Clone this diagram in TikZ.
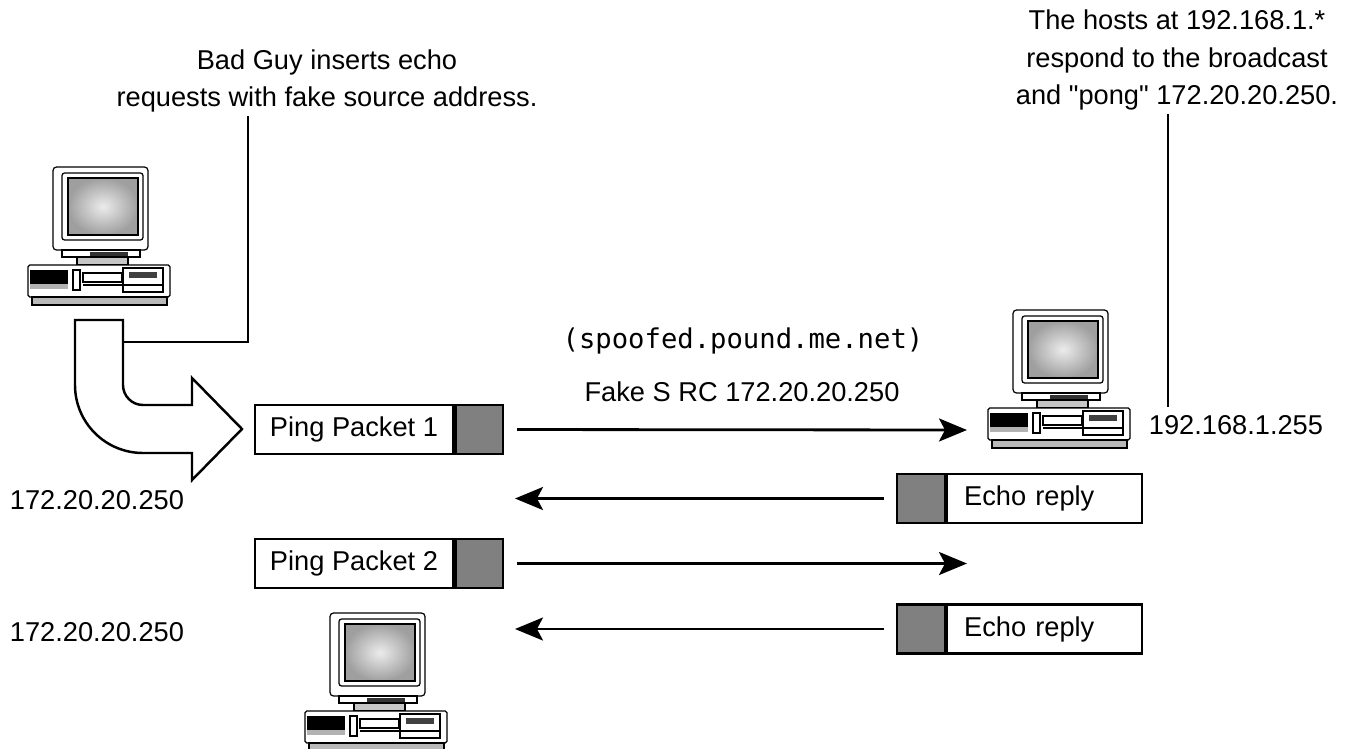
\documentclass[tikz,border=0pt]{standalone}
\usepackage{fontspec}
\setmainfont{Liberation Sans}
\setmonofont{DejaVu Sans Mono}
\newfontfamily\rawfont{Liberation Sans}
\usetikzlibrary{positioning, arrows.meta}

\begin{document}
\begin{tikzpicture}[
    x=0.02cm, y=-0.02cm,
    >={Stealth[length=0.56cm, width=0.46cm, inset=0.12cm]},
    lbl/.style={font=\fontsize{15.5}{21.5}\selectfont, inner sep=2pt},
    pkt/.style={lbl, draw, fill=white, line width=1.4pt, minimum height=0.98cm, inner xsep=0.2cm, inner ysep=0pt},
    cell/.style={draw, fill=gray, line width=1.4pt, minimum width=0.95cm, minimum height=0.98cm, inner sep=0pt},
    flow/.style={->, line width=1.6pt},
    callout/.style={line width=0.9pt},
    bigarrow/.style={draw, fill=white, line width=1.4pt, line join=miter},
    pcline/.style={line width=0.7pt}
]

% Desktop PC Definition (origin = top left corner)
\tikzset{
    computer/.pic={
        % monitor
        \draw[pcline, fill=white, rounded corners=2pt] (25,0) rectangle (120,83);
        \draw[pcline, fill=white, rounded corners=1.5pt] (34,6) rectangle (115,73);
        \shade[inner color=gray!15, outer color=gray!75] (40,11) rectangle (110,68);
        \draw[pcline] (40,11) rectangle (110,68);
        % stand
        \draw[pcline, fill=white] (34,83) rectangle (112,90);
        \fill[black!80] (62,85) rectangle (100,89);
        \draw[pcline, fill=gray!45] (49,90) rectangle (100,98);
        % case
        \draw[pcline, fill=white, rounded corners=1pt] (0,98) rectangle (142,130);
        \draw[pcline, fill=gray!55] (4,130) rectangle (139,138);
        \fill[black] (2,103) rectangle (40,117);
        \fill[gray!60] (2,117) rectangle (40,122);
        \draw[pcline, fill=white] (45,103) rectangle (52,123);
        \draw[pcline, fill=white] (55,106) rectangle (94,115);
        \draw[pcline] (55,118) -- (135,118);
        \draw[pcline] (95,101) rectangle (135,125);
        \fill[black!75] (101,105) rectangle (129,111);
        \coordinate (-port) at (-21,120);
    }
}

\useasboundingbox (0,0) rectangle (1356,748);
\clip (0,0) rectangle (1356,748);

\pic (BadGuyPC) at (28,167) {computer};
\pic (HostsPC) at (988,310) {computer};
\pic (VictimPC) at (305,613) {computer};

% notes
\node[lbl, align=center] (BadNote) at (327,81) {Bad Guy inserts echo\\requests with fake source address.};
\node[lbl, align=center] (HostsNote) at (1177,60) {The hosts at 192.168.1.*\\respond to the broadcast\\and {\rawfont"}pong{\rawfont"} 172.20.20.250.};

\node[lbl, anchor=west] (HostsAddr) at (1145,425) {192.168.1.255};
\node[lbl, anchor=west] (SrcAddrA) at (6,500) {172.20.20.250};
\node[lbl, anchor=west] (SrcAddrB) at (6,632) {172.20.20.250};

\node[lbl, font=\ttfamily\fontsize{15.5}{21.5}\selectfont] (Spoof) at (743,341) {(spoofed.pound.me.net)};
\node[lbl] (FakeSrc) at (742,392) {Fake S RC 172.20.20.250};

% packets
\node[pkt, minimum width=3.96cm] (Ping1) at (354,429.5) {Ping Packet 1};
\node[cell, right=0pt of Ping1] (Ping1c) {};
\node[pkt, minimum width=3.96cm] (Ping2) at (354,563.5) {Ping Packet 2};
\node[cell, right=0pt of Ping2] (Ping2c) {};

\node[cell] (Echo1c) at (921,498.5) {};
\node[pkt, text width=3.22cm, inner xsep=0.34cm, align=left, right=0pt of Echo1c] (Echo1) {Echo reply};
\node[cell] (Echo2c) at (921,629) {};
\node[pkt, text width=3.22cm, inner xsep=0.34cm, align=left, right=0pt of Echo2c] (Echo2) {Echo reply};

\coordinate (SrcA) at (515,498.5);
\coordinate (BcastB) at (967,563.5);
\coordinate (SrcB) at (515,629);

\draw[flow, shorten <=0.26cm] (Ping1c.east) -- (HostsPC-port);
\draw[flow, shorten <=0.24cm] (Echo1c.west) -- (SrcA);
\draw[flow, shorten <=0.26cm] (Ping2c.east) -- (BcastB);
\draw[flow, shorten <=0.24cm] (Echo2c.west) -- (SrcB);

% bent injection arrow
\draw[bigarrow] (75,320) -- (123,320) -- (123,385)
    .. controls (123,396) and (132,405) .. (143,405)
    -- (192,405) -- (192,378) -- (242,429) -- (192,480) -- (192,453) -- (143,453)
    .. controls (105.4,453) and (75,422.6) .. (75,385) -- cycle;

% callout lines
\coordinate (BadTap) at (248,342);
\coordinate (ShaftEdge) at (123,342);
\draw[callout] (BadNote.south -| BadTap) -- (BadTap) -- (ShaftEdge);
\coordinate (HostTap) at (1168,407);
\draw[callout] (HostsNote.south -| HostTap) -- (HostTap);

\end{tikzpicture}
\end{document}
